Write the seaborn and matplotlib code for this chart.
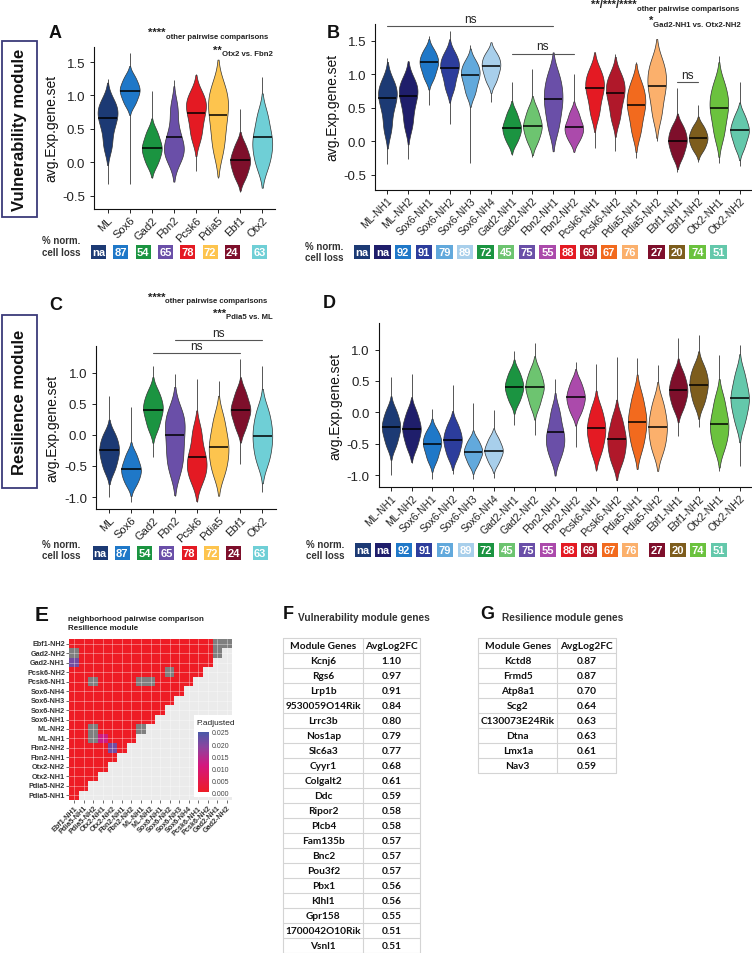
import matplotlib
matplotlib.use("Agg")
import matplotlib.pyplot as plt
from matplotlib.collections import PolyCollection
from matplotlib.colors import LinearSegmentedColormap, ListedColormap
from matplotlib.patches import Rectangle
import seaborn as sns
import numpy as np
import pandas as pd

sns.set_theme(style="ticks")
plt.rcParams['font.family'] = ['Liberation Sans', 'DejaVu Sans']
plt.rcParams['axes.unicode_minus'] = False

W, H = 752, 954

# ---- panel A / C : cell types ----
ct_groups = ["ML", "Sox6", "Gad2", "Fbn2", "Pcsk6", "Pdia5", "Ebf1", "Otx2"]
ct_loss = ["na", "87", "54", "65", "78", "72", "24", "63"]

a_median = [0.66, 1.07, 0.22, 0.38, 0.74, 0.70, 0.03, 0.375]
a_lo = [-0.33, -0.32, -0.23, -0.15, -0.13, -0.24, -0.44, -0.37]
a_hi = [1.25, 1.64, 1.07, 1.23, 1.32, 1.44, 0.80, 1.27]
a_body = [
    [0.25, 0.52, 0.68, 0.78, 0.90],
    [0.88, 1.00, 1.08, 1.15, 1.27],
    [-0.02, 0.12, 0.21, 0.30, 0.45],
    [0.05, 0.17, 0.25, 0.45, 0.80],
    [0.38, 0.60, 0.78, 0.88, 1.02],
    [0.20, 0.50, 0.75, 0.92, 1.12],
    [-0.22, -0.08, 0.02, 0.10, 0.25],
    [-0.05, 0.15, 0.30, 0.45, 0.70],
]

c_median = [-0.25, -0.55, 0.40, 0.0, -0.36, -0.20, 0.40, -0.02]
c_lo = [-1.00, -1.07, -0.35, -0.98, -1.07, -0.91, -0.47, -0.92]
c_hi = [0.63, 0.45, 1.10, 0.97, 0.89, 0.87, 1.22, 1.10]
c_body = [
    [-0.55, -0.38, -0.26, -0.15, 0.00],
    [-0.78, -0.65, -0.56, -0.47, -0.32],
    [0.12, 0.30, 0.42, 0.52, 0.68],
    [-0.55, -0.30, -0.05, 0.18, 0.35],
    [-0.72, -0.55, -0.42, -0.25, 0.05],
    [-0.60, -0.38, -0.20, -0.03, 0.25],
    [0.12, 0.30, 0.40, 0.50, 0.68],
    [-0.42, -0.20, -0.02, 0.15, 0.38],
]

# ---- panel B / D : neighborhoods ----
nh_groups = ["ML-NH1", "ML-NH2", "Sox6-NH1", "Sox6-NH2", "Sox6-NH3", "Sox6-NH4",
             "Gad2-NH1", "Gad2-NH2", "Fbn2-NH1", "Fbn2-NH2", "Pcsk6-NH1", "Pcsk6-NH2",
             "Pdia5-NH1", "Pdia5-NH2", "Ebf1-NH1", "Ebf1-NH2", "Otx2-NH1", "Otx2-NH2"]
nh_loss = ["na", "na", "92", "91", "79", "89", "72", "45", "75", "55",
           "88", "69", "67", "76", "27", "20", "74", "51"]

b_median = [0.64, 0.68, 1.18, 1.10, 0.99, 1.12, 0.20, 0.23, 0.63, 0.21,
            0.79, 0.72, 0.55, 0.83, 0.0, 0.05, 0.50, 0.17]
b_lo = [-0.33, -0.26, 0.54, 0.26, -0.32, 0.59, -0.21, -0.24, -0.13, -0.16,
        -0.10, -0.14, -0.25, 0.0, -0.46, -0.30, -0.32, -0.37]
b_hi = [1.24, 1.20, 1.57, 1.64, 1.43, 1.46, 0.89, 1.08, 1.23, 1.00,
        1.32, 1.30, 1.18, 1.44, 0.79, 0.54, 1.28, 0.88]
b_body = [
    [0.20, 0.48, 0.65, 0.75, 0.88],
    [0.25, 0.50, 0.68, 0.78, 0.90],
    [0.95, 1.08, 1.17, 1.24, 1.35],
    [0.80, 0.98, 1.10, 1.18, 1.30],
    [0.72, 0.88, 0.99, 1.07, 1.18],
    [0.90, 1.03, 1.12, 1.20, 1.30],
    [0.00, 0.12, 0.20, 0.28, 0.42],
    [0.00, 0.14, 0.23, 0.32, 0.47],
    [0.20, 0.45, 0.62, 0.78, 0.98],
    [0.02, 0.13, 0.20, 0.28, 0.42],
    [0.42, 0.65, 0.80, 0.90, 1.05],
    [0.35, 0.58, 0.73, 0.84, 0.98],
    [0.15, 0.40, 0.55, 0.68, 0.85],
    [0.40, 0.68, 0.85, 1.00, 1.18],
    [-0.22, -0.08, 0.01, 0.10, 0.22],
    [-0.12, -0.02, 0.05, 0.12, 0.22],
    [0.10, 0.35, 0.52, 0.65, 0.85],
    [-0.08, 0.07, 0.16, 0.24, 0.38],
]

d_median = [-0.24, -0.27, -0.50, -0.44, -0.63, -0.61, 0.41, 0.40, -0.32, 0.24,
            -0.245, -0.43, -0.15, -0.23, 0.35, 0.44, -0.19, 0.23]
d_lo = [-1.00, -0.81, -1.07, -0.98, -1.07, -1.04, -0.21, -0.36, -0.96, -0.56,
        -0.94, -1.07, -0.90, -0.91, -0.37, -0.24, -0.94, -0.86]
d_hi = [0.56, 0.61, 0.05, 0.44, 0.15, 0.04, 0.98, 1.10, 0.53, 0.81,
        0.77, 0.89, 0.87, 0.76, 1.18, 1.23, 0.91, 1.08]
d_body = [
    [-0.52, -0.35, -0.24, -0.14, 0.02],
    [-0.55, -0.38, -0.27, -0.17, 0.00],
    [-0.75, -0.60, -0.50, -0.42, -0.30],
    [-0.70, -0.55, -0.44, -0.35, -0.20],
    [-0.82, -0.70, -0.63, -0.56, -0.45],
    [-0.80, -0.68, -0.61, -0.54, -0.42],
    [0.18, 0.32, 0.41, 0.50, 0.64],
    [0.12, 0.30, 0.40, 0.50, 0.66],
    [-0.70, -0.52, -0.40, -0.25, 0.00],
    [0.00, 0.14, 0.24, 0.33, 0.48],
    [-0.62, -0.42, -0.28, -0.15, 0.05],
    [-0.78, -0.60, -0.45, -0.32, -0.10],
    [-0.55, -0.32, -0.15, 0.00, 0.25],
    [-0.60, -0.40, -0.23, -0.08, 0.15],
    [0.08, 0.24, 0.35, 0.46, 0.62],
    [0.15, 0.32, 0.45, 0.56, 0.72],
    [-0.55, -0.35, -0.20, -0.05, 0.20],
    [-0.15, 0.08, 0.22, 0.36, 0.60],
]

# significance brackets
b_ns_pairs = [("ML-NH1", "Fbn2-NH1"), ("Gad2-NH1", "Fbn2-NH2"), ("Ebf1-NH1", "Ebf1-NH2")]
b_ns_y = [1.72, 1.31, 0.88]
c_ns_pairs = [("Fbn2", "Otx2"), ("Gad2", "Ebf1")]
c_ns_y = [1.52, 1.31]

# ---- panel E : pairwise p-values (lower triangle) ----
hm_rows = ["Ebf1-NH2", "Gad2-NH2", "Gad2-NH1", "Pcsk6-NH2", "Pcsk6-NH1", "Sox6-NH4",
           "Sox6-NH3", "Sox6-NH2", "Sox6-NH1", "ML-NH2", "ML-NH1", "Fbn2-NH2",
           "Fbn2-NH1", "Otx2-NH2", "Otx2-NH1", "Pdia5-NH2", "Pdia5-NH1"]
hm_cols = ["Ebf1-NH1", "Pdia5-NH1", "Pdia5-NH2", "Otx2-NH1", "Otx2-NH2", "Fbn2-NH1",
           "Fbn2-NH2", "ML-NH1", "ML-NH2", "Sox6-NH1", "Sox6-NH2", "Sox6-NH3",
           "Sox6-NH4", "Pcsk6-NH1", "Pcsk6-NH2", "Gad2-NH1", "Gad2-NH2"]
hm_na_cells = [("Ebf1-NH2", "Gad2-NH1"), ("Ebf1-NH2", "Gad2-NH2"), ("Gad2-NH2", "Ebf1-NH1"),
               ("Gad2-NH2", "Gad2-NH1"), ("Pcsk6-NH2", "Sox6-NH2"), ("Pcsk6-NH1", "Pdia5-NH2"),
               ("Pcsk6-NH1", "ML-NH1"), ("Pcsk6-NH1", "ML-NH2"), ("ML-NH2", "Pdia5-NH2"),
               ("ML-NH2", "ML-NH1"), ("ML-NH1", "Pdia5-NH2")]
hm_p_cells = [("Gad2-NH1", "Ebf1-NH1"), ("ML-NH1", "Otx2-NH1"), ("Fbn2-NH2", "Otx2-NH2")]
hm_p_vals = [0.021, 0.012, 0.021]

# ---- tables F / G ----
f_genes = ["Kcnj6", "Rgs6", "Lrp1b", "9530059O14Rik", "Lrrc3b", "Nos1ap", "Slc6a3", "Cyyr1",
           "Colgalt2", "Ddc", "Ripor2", "Plcb4", "Fam135b", "Bnc2", "Pou3f2", "Pbx1",
           "Klhl1", "Gpr158", "1700042O10Rik", "Vsnl1"]
f_fc = [1.10, 0.97, 0.91, 0.84, 0.80, 0.79, 0.77, 0.68, 0.61, 0.59, 0.58, 0.58,
        0.57, 0.57, 0.57, 0.56, 0.56, 0.55, 0.51, 0.51]
g_genes = ["Kctd8", "Frmd5", "Atp8a1", "Scg2", "C130073E24Rik", "Dtna", "Lmx1a", "Nav3"]
g_fc = [0.87, 0.87, 0.70, 0.64, 0.63, 0.63, 0.61, 0.59]

colors = {
    "ML": "#1c3a74", "Sox6": "#1f78c8", "Gad2": "#1b9441", "Fbn2": "#6a4fa8",
    "Pcsk6": "#e41a23", "Pdia5": "#fdc44e", "Ebf1": "#7e0f2b", "Otx2": "#6fcfd6",
    "ML-NH1": "#1c3a74", "ML-NH2": "#1f1e6b", "Sox6-NH1": "#1f78c8", "Sox6-NH2": "#2c3d9c",
    "Sox6-NH3": "#62a9dc", "Sox6-NH4": "#a8cfeb", "Gad2-NH1": "#1b9441", "Gad2-NH2": "#6dc470",
    "Fbn2-NH1": "#6a4fa8", "Fbn2-NH2": "#ab4aab", "Pcsk6-NH1": "#e41a23", "Pcsk6-NH2": "#b0182a",
    "Pdia5-NH1": "#f26a1e", "Pdia5-NH2": "#fbb06c", "Ebf1-NH1": "#7e0f2b", "Ebf1-NH2": "#7d5d1d",
    "Otx2-NH1": "#6bc23e", "Otx2-NH2": "#64c8ab",
}

fig = plt.figure(figsize=(W / 100, H / 100), dpi=100)


def add_ax(l, t, r, b):
    return fig.add_axes([l / W, 1 - b / H, (r - l) / W, (b - t) / H])


def violin_panel(box, groups, body, median, lo, hi, ylim, yticks, xfs):
    ax = add_ax(*box)
    df = pd.DataFrame([(g, v) for g, vals in zip(groups, body) for v in vals],
                      columns=["group", "value"])
    sns.violinplot(data=df, x="group", y="value", hue="group", order=groups,
                   hue_order=groups, palette=colors, density_norm="width", inner=None,
                   cut=2, bw_adjust=0.8, width=0.9, linewidth=0.5, linecolor="#333333",
                   saturation=1, legend=False, ax=ax)
    # median bars, as wide as the violin at that height
    for poly in [c for c in ax.collections if isinstance(c, PolyCollection)]:
        v = poly.get_paths()[0].vertices
        cx = v[:, 0].mean()
        i = int(round(cx))
        right = v[v[:, 0] > i + 1e-9]
        o = np.argsort(right[:, 1])
        hw = np.interp(median[i], right[o, 1], right[o, 0] - i, left=0.03, right=0.03)
        ax.plot([i - hw, i + hw], [median[i]] * 2, color="black", lw=1.1,
                solid_capstyle="butt", zorder=3)
    ax.vlines(range(len(groups)), lo, hi, colors="#3a3a3a", lw=0.6, zorder=0.5)
    ax.set_xlim(-0.6, len(groups) - 0.4)
    ax.set_ylim(*ylim)
    ax.set_yticks(yticks)
    ax.set_yticklabels([f"{t:.1f}" for t in yticks])
    ax.set_xlabel("")
    ax.set_ylabel("avg.Exp.gene.set", fontsize=10, labelpad=3, color="#111111")
    ax.tick_params(axis="y", labelsize=9.5, length=3, width=0.7, colors="#222222")
    ax.tick_params(axis="x", labelsize=xfs, length=3, width=0.7, colors="#222222", pad=1)
    plt.setp(ax.get_xticklabels(), rotation=45, ha="right", rotation_mode="anchor")
    sns.despine(ax=ax)
    for s in ("left", "bottom"):
        ax.spines[s].set_linewidth(0.8)
        ax.spines[s].set_color("#111111")
    return ax


def ns_bars(ax, groups, pairs, ys):
    for (a, b), y in zip(pairs, ys):
        i, j = groups.index(a), groups.index(b)
        ax.plot([i, j], [y, y], color="#555555", lw=0.8, clip_on=False)
        ax.text((i + j) / 2, y + 0.02, "ns", ha="center", va="bottom", fontsize=8.5,
                color="#222222", clip_on=False)


ax_a = violin_panel((94.3, 47.7, 275.5, 210), ct_groups, a_body, a_median, a_lo, a_hi,
                    (-0.70, 1.73), [-0.5, 0.0, 0.5, 1.0, 1.5], 8)
ax_b = violin_panel((375, 25, 752, 190.7), nh_groups, b_body, b_median, b_lo, b_hi,
                    (-0.72, 1.75), [-0.5, 0.0, 0.5, 1.0, 1.5], 7.5)
ax_c = violin_panel((96, 346.7, 275.5, 510), ct_groups, c_body, c_median, c_lo, c_hi,
                    (-1.19, 1.43), [-1.0, -0.5, 0.0, 0.5, 1.0], 8)
ax_d = violin_panel((378.7, 324.3, 752, 488.3), nh_groups, d_body, d_median, d_lo, d_hi,
                    (-1.196, 1.42), [-1.0, -0.5, 0.0, 0.5, 1.0], 7.5)
ns_bars(ax_b, nh_groups, b_ns_pairs, b_ns_y)
ns_bars(ax_c, ct_groups, c_ns_pairs, c_ns_y)

# ---- heatmap E ----
n = len(hm_rows)
pmat = np.zeros((n, n))
na = np.zeros((n, n), dtype=bool)
for r, c in hm_na_cells:
    na[hm_rows.index(r), hm_cols.index(c)] = True
for (r, c), p in zip(hm_p_cells, hm_p_vals):
    pmat[hm_rows.index(r), hm_cols.index(c)] = p
upper = np.array([[j > n - 1 - i for j in range(n)] for i in range(n)])

ax_e = add_ax(69.3, 640, 231.7, 801)
cax = add_ax(198.3, 733, 209.3, 793.3)
ax_e.set_facecolor("#ebebeb")
cmap_p = LinearSegmentedColormap.from_list(
    "padj", [(0, "#ee1c25"), (0.45, "#d4177f"), (0.75, "#8c449f"), (1, "#4a5aa8")])
sns.heatmap(np.where(na, 1.0, np.nan), mask=~na | upper, cmap=ListedColormap(["#7f7f7f"]),
            cbar=False, ax=ax_e)
sns.heatmap(pmat, mask=na | upper, cmap=cmap_p, vmin=0, vmax=0.025, cbar_ax=cax, ax=ax_e,
            xticklabels=hm_cols, yticklabels=hm_rows)
for k in range(n):
    ax_e.axvline(k + 0.5, color="white", lw=0.5, alpha=0.5, zorder=3)
    ax_e.axhline(k + 0.5, color="white", lw=0.5, alpha=0.5, zorder=3)
ax_e.tick_params(length=2, width=0.5, colors="#333333", labelsize=5.2, pad=1)
plt.setp(ax_e.get_xticklabels(), rotation=45, ha="right", rotation_mode="anchor",
         fontweight="bold")
plt.setp(ax_e.get_yticklabels(), rotation=0, fontweight="bold")
cax.set_yticks([0, 0.005, 0.01, 0.015, 0.02, 0.025])
cax.set_yticklabels(["0.000", "0.005", "0.010", "0.015", "0.020", "0.025"])
cax.tick_params(length=0, labelsize=5, colors="#444444", pad=2)
ax_e.collections[-1].colorbar.outline.set_visible(False)
cax.set_zorder(6)

# ---- overlay in pixel coordinates for labels, boxes and tables ----
ov = fig.add_axes([0, 0, 1, 1])
ov.set_xlim(0, W)
ov.set_ylim(H, 0)
ov.axis("off")
ov.set_zorder(5)

# module boxes
for (t, b), label in [((41.7, 218.3), "Vulnerability module"), ((316, 489.3), "Resilience module")]:
    ov.add_patch(Rectangle((1.7, t), 35, b - t, facecolor="white", edgecolor="#3b3a7a", lw=1.3))
    ov.text(19.2, (t + b) / 2, label, rotation=90, ha="center", va="center",
            fontsize=12, fontweight="bold", color="#111111")

# panel letters
for x, y, s, fs in [(49, 34, "A", 13), (326.5, 34, "B", 13), (49, 305.5, "C", 13),
                    (323, 303.5, "D", 13), (35, 615.5, "E", 15), (283, 615, "F", 13),
                    (480, 615, "G", 13)]:
    ov.text(x, y, s, ha="left", va="center", fontsize=fs, fontweight="bold", color="#111111")


def stars(x, y, s, sub, fs=8):
    ov.text(x, y, s, ha="right", va="center", fontsize=fs, fontweight="bold", color="#222222")
    ov.text(x, y + 4.5, sub, ha="left", va="center", fontsize=5.6, fontweight="bold",
            color="#222222")


stars(166, 33, "****", "other pairwise comparisons")
stars(222, 50.5, "**", "Otx2 vs. Fbn2")
stars(636.7, 5, "**/***/****", "other pairwise comparisons")
stars(653, 21, "*", "Gad2-NH1 vs. Otx2-NH2")
stars(165, 297.5, "****", "other pairwise comparisons")
stars(226.5, 313.5, "***", "Pdia5 vs. ML")


def loss_row(labels, groups, cx0, step, gap_at, gap, top, w, lab_xy):
    for k, (lab, g) in enumerate(zip(labels, groups)):
        cx = cx0 + k * step + (gap if k >= gap_at else 0)
        ov.add_patch(Rectangle((cx - w / 2, top), w, 14, facecolor=colors[g], edgecolor="none"))
        ov.text(cx, top + 7.3, lab, ha="center", va="center", color="white", fontsize=8,
                fontweight="bold")
    ov.text(lab_xy[0], lab_xy[1], "% norm.\ncell loss", ha="left", va="center", fontsize=7,
            fontweight="bold", color="#333333", linespacing=1.15)


loss_row(ct_loss, ct_groups, 98.5, 22.3, 7, 5, 246, 15, (41.5, 247))
loss_row(nh_loss, nh_groups, 362, 20.6, 14, 6.1, 246, 16.5, (305, 252.5))
loss_row(ct_loss, ct_groups, 100, 22.3, 7, 4, 547, 15, (42.5, 550.5))
loss_row(nh_loss, nh_groups, 362.5, 20.6, 14, 6.1, 544, 16, (305.5, 550.5))

# heatmap titles + legend box
ov.text(68.3, 624, "neighborhood pairwise comparison\nResilience module", ha="left",
        va="center", fontsize=5.8, fontweight="bold", color="#222222", linespacing=1.3)
ov.add_patch(Rectangle((194, 716), 38, 82, facecolor="white", edgecolor="none"))
ov.text(196.5, 724, "P.adjusted", ha="left", va="center", fontsize=6, color="#222222")


def draw_table(x0, xm, x1, top, genes, fcs, title, title_x):
    rh = 15
    nr = len(genes) + 1
    for k in range(nr + 1):
        ov.plot([x0, x1], [top + k * rh] * 2, color="#d4d4d4", lw=0.8)
    for x in (x0, xm, x1):
        ov.plot([x, x], [top, top + nr * rh], color="#d4d4d4", lw=0.8)
    tkw = dict(ha="center", va="center", fontsize=7.3, fontweight="bold", color="#111111",
               family=["Lato", "DejaVu Sans"])
    ov.text((x0 + xm) / 2, top + rh / 2, "Module Genes", **tkw)
    ov.text((xm + x1) / 2, top + rh / 2, "AvgLog2FC", **tkw)
    for k, (g, v) in enumerate(zip(genes, fcs)):
        y = top + (k + 1.5) * rh
        ov.text((x0 + xm) / 2, y, g, **tkw)
        ov.text((xm + x1) / 2, y, f"{v:.2f}", **tkw)
    ov.text(title_x, 618.5, title, ha="left", va="center", fontsize=7.3, fontweight="bold",
            color="#333333")


draw_table(283.3, 363.3, 420, 639.2, f_genes, f_fc, "Vulnerability module genes", 298.5)
draw_table(478.3, 557.3, 615.7, 639.2, g_genes, g_fc, "Resilience module genes", 501.5)

fig.savefig("out.png", dpi=100)
